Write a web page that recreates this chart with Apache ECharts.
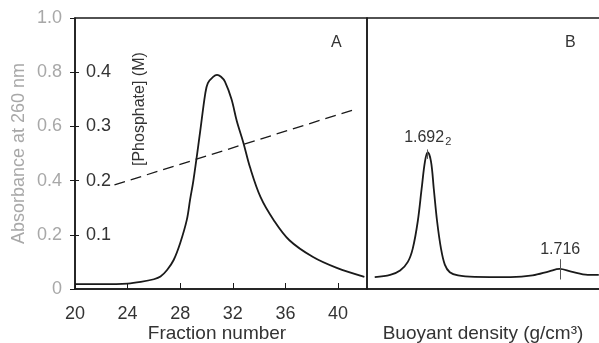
<!DOCTYPE html>
<html>
<head>
<meta charset="utf-8">
<script src="https://cdn.jsdelivr.net/npm/echarts@6/dist/echarts.min.js"></script>
<style>
  html, body { margin: 0; padding: 0; background: #fff; }
  #chart { width: 599px; height: 343px; }
</style>
</head>
<body>
<div id="chart"></div>
<script>
// panel A: absorbance vs fraction number
var fractionAbs = [
  [20, 0.018], [22, 0.018], [24, 0.02], [25, 0.026], [26, 0.036], [26.5, 0.046],
  [27, 0.07], [27.5, 0.107], [28, 0.17], [28.5, 0.255], [28.75, 0.33], [29, 0.40],
  [29.5, 0.575], [29.9, 0.72], [30.1, 0.76], [30.5, 0.783], [30.8, 0.79], [31.1, 0.783],
  [31.4, 0.765], [31.9, 0.70], [32.3, 0.62], [32.8, 0.54], [33.3, 0.45], [34.1, 0.34],
  [35.1, 0.255], [36.3, 0.18], [38.1, 0.118], [39.9, 0.078], [42.0, 0.045]
]
// phosphate gradient (M), dashed
var phosphate = [[23, 0.192], [41.1, 0.33]]
// panel B: absorbance vs buoyant density
var densityAbs = [
  [1.6824, 0.044], [1.6852, 0.052], [1.6870, 0.068], [1.6884, 0.10], [1.6893, 0.15],
  [1.6902, 0.25], [1.6909, 0.37], [1.6915, 0.47], [1.6920, 0.505], [1.6926, 0.47],
  [1.6931, 0.37], [1.6937, 0.25], [1.6944, 0.15], [1.6951, 0.09], [1.6960, 0.062],
  [1.6975, 0.05], [1.7005, 0.045], [1.7070, 0.044], [1.7110, 0.05], [1.7140, 0.065],
  [1.7159, 0.074], [1.7180, 0.064], [1.7210, 0.052], [1.7230, 0.052]
]
var peakLabels = [[1.692, 0.48, 0.515, '1.692{s|2}'], [1.716, 0.035, 0.11, '1.716']]

var font = 'Liberation Sans'
var ink = '#1a1a1a'
var faint = '#a8a8a8'

var myChart = echarts.init(document.getElementById('chart'))
var option = {
  animation: false,
  textStyle: { fontFamily: font },
  grid: [
    { left: 75, top: 18, width: 292, height: 271, show: true, borderColor: ink, borderWidth: 1.5, outerBoundsMode: 'none' },
    { left: 367, top: 18, width: 234, height: 271, show: true, borderColor: ink, borderWidth: 1.5, outerBoundsMode: 'none' }
  ],
  xAxis: [
    {
      gridIndex: 0, type: 'value', min: 20, max: 42.2, interval: 4,
      name: 'Fraction number', nameLocation: 'middle', nameGap: 35, nameMoveOverlap: false,
      nameTextStyle: { color: '#333', fontSize: 19, padding: [0, 8, 0, 0] },
      axisLine: { lineStyle: { color: ink, width: 1.5 } },
      axisTick: { inside: true, length: 6, lineStyle: { color: ink } },
      axisLabel: {
        color: '#333', fontSize: 18, margin: 16, showMaxLabel: false,
        formatter: function (v) { return v % 4 === 0 ? String(v) : '' }
      },
      splitLine: { show: false }
    },
    {
      gridIndex: 1, type: 'value', min: 1.681, max: 1.7234,
      name: 'Buoyant density (g/cm³)', nameLocation: 'middle', nameGap: 35, nameMoveOverlap: false,
      nameTextStyle: { color: '#333', fontSize: 19, padding: [0, 2, 0, 0] },
      axisLine: { lineStyle: { color: ink, width: 1.5 } },
      axisTick: { show: false }, axisLabel: { show: false }, splitLine: { show: false }
    }
  ],
  yAxis: [
    {
      gridIndex: 0, type: 'value', min: 0, max: 1, interval: 0.2,
      name: 'Absorbance at 260 nm', nameLocation: 'middle', nameGap: 47,
      nameTextStyle: { color: faint, fontSize: 18 },
      axisLine: { lineStyle: { color: ink, width: 1.5 } },
      axisTick: { length: 5, lineStyle: { color: ink } },
      axisLabel: {
        color: faint, fontSize: 18, margin: 13,
        formatter: function (v) { return v === 0 ? '0' : v.toFixed(1) }
      },
      splitLine: { show: false }
    },
    {
      gridIndex: 0, type: 'value', min: 0, max: 0.5, interval: 0.1, position: 'left',
      axisLine: { show: false },
      axisTick: { inside: true, length: 4, lineStyle: { color: ink } },
      axisLabel: {
        inside: true, color: '#333', fontSize: 18, margin: 11,
        showMinLabel: false, showMaxLabel: false,
        formatter: function (v) { return v.toFixed(1) }
      },
      splitLine: { show: false }
    },
    {
      gridIndex: 1, type: 'value', min: 0, max: 1, show: false
    }
  ],
  graphic: [
    { type: 'text', left: 331, top: 35, style: { text: 'A', fill: '#333', font: '16px ' + font } },
    { type: 'text', left: 565, top: 35, style: { text: 'B', fill: '#333', font: '16px ' + font } },
    {
      type: 'text', x: 132, y: 166, rotation: Math.PI / 2,
      style: { text: '[Phosphate] (M)', fill: '#333', font: '16px ' + font }
    }
  ],
  series: [
    {
      type: 'line', xAxisIndex: 0, yAxisIndex: 0, data: fractionAbs,
      smooth: 0.35, showSymbol: false, lineStyle: { color: ink, width: 1.8 }
    },
    {
      type: 'line', xAxisIndex: 0, yAxisIndex: 1, data: phosphate,
      showSymbol: false, lineStyle: { color: ink, width: 1.3, type: [11, 6] }
    },
    {
      type: 'line', xAxisIndex: 1, yAxisIndex: 2, data: densityAbs,
      smooth: 0.35, showSymbol: false, lineStyle: { color: ink, width: 1.8 },
      markLine: {
        silent: true, symbol: 'none', animation: false,
        lineStyle: { color: '#555', width: 1, type: 'solid' },
        label: {
          position: 'end', distance: 2, color: '#333', fontSize: 16, fontFamily: font,
          formatter: function (p) { return p.data.labelText },
          rich: { s: { fontSize: 11, verticalAlign: 'bottom', padding: [8, 0, 0, 1] } }
        },
        data: peakLabels.map(function (d) {
          return [{ coord: [d[0], d[1]], labelText: d[3] }, { coord: [d[0], d[2]] }]
        })
      }
    }
  ]
}
myChart.setOption(option)
</script>
</body>
</html>
